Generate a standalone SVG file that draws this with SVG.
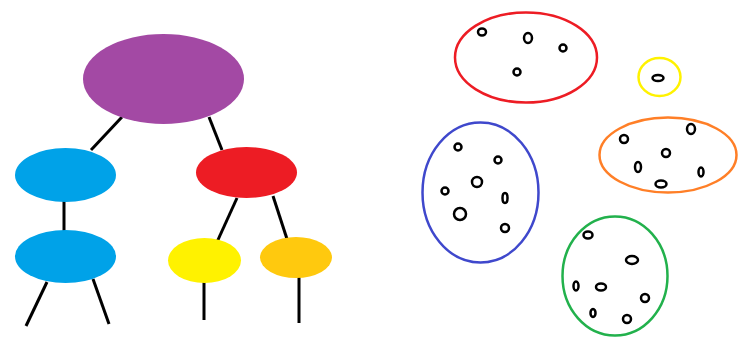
<svg xmlns="http://www.w3.org/2000/svg" width="738" height="339" viewBox="0 0 738 339">
<style>
.edge{stroke:#000;stroke-width:3;fill:none}
.dot{fill:none;stroke:#000;stroke-width:2.5}
.set{fill:none;stroke-width:2.5}
</style>
<rect width="738" height="339" fill="#fff"/>
<g id="connectors">
<line class="edge" x1="122" y1="117" x2="91" y2="150"/>
<line class="edge" x1="209" y1="117" x2="222" y2="150"/>
<line class="edge" x1="64" y1="200" x2="64" y2="232"/>
<line class="edge" x1="237" y1="198" x2="217" y2="242"/>
<line class="edge" x1="273" y1="196" x2="287" y2="239"/>
<line class="edge" x1="47" y1="282" x2="26" y2="326"/>
<line class="edge" x1="93" y1="279" x2="109" y2="324"/>
<line class="edge" x1="204" y1="281" x2="204" y2="320"/>
<line class="edge" x1="299" y1="276" x2="299" y2="323"/>
</g>
<g id="root"><ellipse cx="163.5" cy="79" rx="80.5" ry="45" fill="#A349A4"/></g>
<g id="blue1"><ellipse cx="65.5" cy="175" rx="50.5" ry="27" fill="#00A2E8"/></g>
<g id="blue2"><ellipse cx="65.5" cy="256.5" rx="50.5" ry="26.5" fill="#00A2E8"/></g>
<g id="red"><ellipse cx="246.5" cy="172.5" rx="50.5" ry="25.5" fill="#ED1C24"/></g>
<g id="yellow"><ellipse cx="204.5" cy="260.5" rx="36.5" ry="22.5" fill="#FFF200"/></g>
<g id="gold"><ellipse cx="296" cy="257.5" rx="36" ry="20.5" fill="#FFC90E"/></g>
<g id="set-red">
<ellipse class="set" cx="526" cy="57.5" rx="71" ry="45" stroke="#ED1C24"/>
<ellipse class="dot" cx="482" cy="32" rx="4" ry="3.5"/>
<ellipse class="dot" cx="528" cy="38" rx="4" ry="5"/>
<ellipse class="dot" cx="563" cy="48" rx="3.5" ry="3.5"/>
<ellipse class="dot" cx="517" cy="72" rx="3.5" ry="3.5"/>
</g>
<g id="set-blue">
<ellipse class="set" cx="480.5" cy="192.5" rx="58" ry="70" stroke="#3F48CC"/>
<ellipse class="dot" cx="458" cy="147" rx="3.5" ry="3.5"/>
<ellipse class="dot" cx="498" cy="160" rx="3.5" ry="3.5"/>
<ellipse class="dot" cx="477" cy="182" rx="5" ry="5"/>
<ellipse class="dot" cx="445" cy="191" rx="3.5" ry="3.5"/>
<ellipse class="dot" cx="505" cy="198" rx="2.5" ry="5"/>
<ellipse class="dot" cx="460" cy="214" rx="6" ry="6"/>
<ellipse class="dot" cx="505" cy="228" rx="4" ry="4"/>
</g>
<g id="set-yellow">
<ellipse class="set" cx="659.5" cy="77" rx="21" ry="19" stroke="#FFF200"/>
<ellipse class="dot" cx="658" cy="78" rx="5.5" ry="3"/>
</g>
<g id="set-orange">
<ellipse class="set" cx="668" cy="155" rx="68.5" ry="37.5" stroke="#FF7F27"/>
<ellipse class="dot" cx="624" cy="139" rx="4" ry="4"/>
<ellipse class="dot" cx="691" cy="129" rx="4" ry="5"/>
<ellipse class="dot" cx="666" cy="153" rx="4" ry="4"/>
<ellipse class="dot" cx="638" cy="167" rx="3" ry="5"/>
<ellipse class="dot" cx="701" cy="172" rx="2.5" ry="4.5"/>
<ellipse class="dot" cx="661" cy="184" rx="5.5" ry="3.5"/>
</g>
<g id="set-green">
<ellipse class="set" cx="615" cy="276" rx="52.5" ry="59.5" stroke="#22B14C"/>
<ellipse class="dot" cx="588" cy="235" rx="4.5" ry="3.5"/>
<ellipse class="dot" cx="632" cy="260" rx="6" ry="4"/>
<ellipse class="dot" cx="576" cy="286" rx="2.5" ry="4.5"/>
<ellipse class="dot" cx="601" cy="287" rx="5" ry="3.5"/>
<ellipse class="dot" cx="645" cy="298" rx="4" ry="4"/>
<ellipse class="dot" cx="593" cy="313" rx="2.5" ry="4"/>
<ellipse class="dot" cx="627" cy="319" rx="4" ry="4"/>
</g>
</svg>
